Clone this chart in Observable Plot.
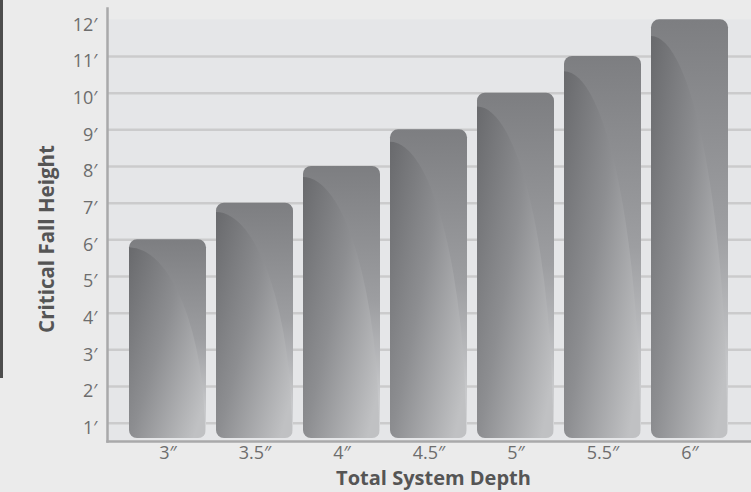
<!DOCTYPE html>
<html>
<head>
<meta charset="utf-8">
<script src="https://cdn.jsdelivr.net/npm/d3@7"></script>
<script src="https://cdn.jsdelivr.net/npm/@observablehq/plot@0.6"></script>
<style>
  html, body { margin: 0; padding: 0; background: #ebebeb; }
  #wrap { position: relative; width: 751px; height: 492px; overflow: hidden; }
  #strip { position: absolute; left: 0; top: 0; width: 3px; height: 378px; background: #4d4d4d; }
  svg { display: block; }
</style>
</head>
<body>
<div id="wrap"><div id="strip"></div><div id="chart"></div></div>
<script>
// Data
const depths = [3, 3.5, 4, 4.5, 5, 5.5, 6];            // inches
const fallHeights = [6, 7, 8, 9, 10, 11, 12];           // feet
const yTicks = [1, 2, 3, 4, 5, 6, 7, 8, 9, 10, 11, 12];
const xTitle = "Total System Depth";
const yTitle = "Critical Fall Height";

const data = depths.map((d, i) => ({depth: d + "″", height: fallHeights[i]}));
const yBase = 0.5;
const yTop = d3.max(yTicks);

const font = "'Open Sans', 'Noto Sans', sans-serif";

const chart = Plot.plot({
  width: 751,
  height: 492,
  marginLeft: 107,
  marginRight: 0,
  marginTop: 8,
  marginBottom: 51,
  style: {background: "transparent", fontFamily: font},
  x: {domain: data.map(d => d.depth), paddingInner: 0.1136, paddingOuter: 0.216, axis: null},
  y: {domain: [yBase, 12.31], axis: null},
  marks: [
    Plot.rect([{}], {y1: yBase, y2: yTop, fill: "#e5e6e8"}),
    Plot.ruleY(yTicks.filter(t => t < yTop), {stroke: "#cbcbcc", strokeWidth: 2.5}),
    Plot.barY(data, {x: "depth", y1: yBase, y2: "height", rx: 8, insetBottom: 3, fill: "url(#gradOuter)"}),
    Plot.barY(data, {x: "depth", y1: yBase, y2: "height", rx: 8, insetBottom: 3, fill: "url(#gradInner)"}),
    Plot.frame({anchor: "left", stroke: "#a9a9aa", strokeWidth: 2.5}),
    Plot.frame({anchor: "bottom", stroke: "#a9a9aa", strokeWidth: 2.5}),
    Plot.axisY(yTicks, {tickSize: 0, tickPadding: 10, dy: 5, tickFormat: d => d + "′", fontSize: 18, fill: "#6d6d6d", label: null}),
    Plot.axisX({tickSize: 0, tickPadding: 5, tickFormat: d => d, fontSize: 18, fill: "#6d6d6d", label: null}),
    Plot.text([xTitle], {frameAnchor: "bottom", textAnchor: "middle", lineAnchor: "middle", dy: 37, dx: 4, text: d => d, fontSize: 20, fontWeight: "bold", fill: "#555"}),
    Plot.text([yTitle], {frameAnchor: "left", textAnchor: "middle", lineAnchor: "middle", dx: -60, dy: 14, rotate: -90, text: d => d, fontSize: 20.5, fontWeight: "bold", fill: "#555"})
  ]
});

const svg = d3.select(chart);
svg.insert("defs", ":first-child").html(`
  <linearGradient id="gradOuter" x1="0" y1="0" x2="0" y2="1">
    <stop offset="0" stop-color="#7d7e81"/>
    <stop offset="0.5" stop-color="#9d9ea1"/>
    <stop offset="1" stop-color="#dadbdd"/>
  </linearGradient>
  <linearGradient id="gradInner" x1="0" y1="0" x2="1" y2="0.8">
    <stop offset="0" stop-color="#67686b"/>
    <stop offset="0.5" stop-color="#8d8e91"/>
    <stop offset="1" stop-color="#c0c1c3"/>
  </linearGradient>
  <clipPath id="glossClip" clipPathUnits="objectBoundingBox">
    <ellipse cx="0" cy="1" rx="0.99" ry="0.96"/>
  </clipPath>
`);
svg.selectAll('g[fill="url(#gradInner)"] rect').attr("clip-path", "url(#glossClip)");

document.getElementById("chart").appendChild(chart);
</script>
</body>
</html>
